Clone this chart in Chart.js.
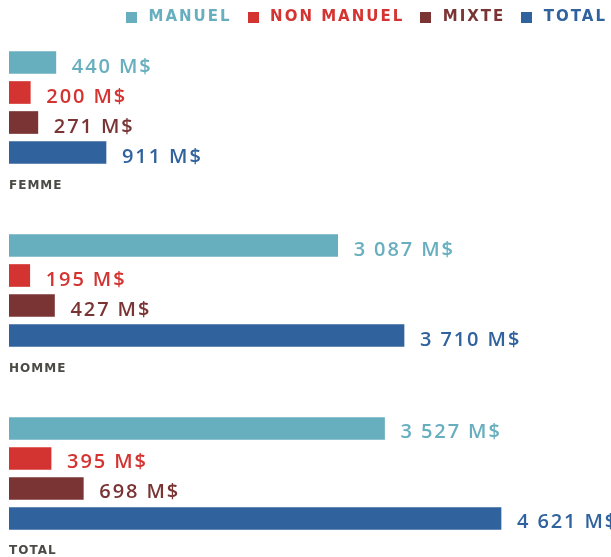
<!DOCTYPE html>
<html>
<head>
<meta charset="utf-8">
<script src="https://cdn.jsdelivr.net/npm/chart.js"></script>
<style>
  html, body { margin: 0; padding: 0; background: #fff; }
  #wrap { width: 611px; height: 557px; }
</style>
</head>
<body>
<div id="wrap"><canvas id="chart_rev"></canvas></div>
<script>
// data (M$)
const categories = ['FEMME', 'HOMME', 'TOTAL'];
const seriesNames = ['MANUEL', 'NON MANUEL', 'MIXTE', 'TOTAL'];
const manuel = [440, 3087, 3527];
const nonManuel = [200, 195, 395];
const mixte = [271, 427, 698];
const total = [911, 3710, 4621];
const colors = ['#67aebe', '#d43431', '#7a3434', '#30629e'];

const series = [manuel, nonManuel, mixte, total];

function fmt(n) {
  return String(n).replace(/\B(?=(\d{3})+(?!\d))/g, ' ') + ' M$';
}

// small square used as legend marker (leaves a wider gap before the text)
function square(color) {
  const c = document.createElement('canvas');
  c.width = 11;
  c.height = 11;
  const g = c.getContext('2d');
  g.fillStyle = color;
  g.fillRect(0, 0, 11, 11);
  return c;
}

// wide tracking like the original typeface
const tracking = {
  id: 'tracking',
  beforeLayout(chart) { chart.ctx.letterSpacing = '2px'; },
  beforeDraw(chart) { chart.ctx.letterSpacing = '2px'; }
};

const valueLabels = {
  id: 'valueLabels',
  afterDatasetsDraw(chart) {
    const ctx = chart.ctx;
    ctx.save();
    ctx.letterSpacing = '1.9px';
    ctx.font = '600 20px "Open Sans"';
    ctx.textAlign = 'left';
    ctx.textBaseline = 'alphabetic';
    chart.data.datasets.forEach((ds, di) => {
      const meta = chart.getDatasetMeta(di);
      meta.data.forEach((bar, i) => {
        ctx.fillStyle = ds.backgroundColor;
        ctx.fillText(fmt(ds.data[i].x), bar.x + 16, bar.y + 10);
      });
    });
    ctx.restore();
  }
};

const groupLabels = {
  id: 'groupLabels',
  afterDatasetsDraw(chart) {
    const ctx = chart.ctx;
    const yScale = chart.scales.y;
    ctx.save();
    ctx.letterSpacing = '1px';
    ctx.font = 'bold 12px "DejaVu Sans"';
    ctx.fillStyle = '#4b4a45';
    ctx.textAlign = 'left';
    ctx.textBaseline = 'alphabetic';
    categories.forEach((c, i) => {
      ctx.fillText(c, chart.chartArea.left, yScale.getPixelForValue(i) + 81);
    });
    ctx.restore();
  }
};

new Chart('chart_rev', {
  type: 'bar',
  data: {
    datasets: seriesNames.map((name, s) => ({
      label: name,
      data: series[s].map((v, i) => ({ x: v, y: i })),
      backgroundColor: colors[s],
      borderWidth: 0,
      barThickness: 30,
      maxBarThickness: 22
    }))
  },
  options: {
    indexAxis: 'y',
    responsive: true,
    maintainAspectRatio: false,
    animation: false,
    layout: { padding: { top: -2, left: 9, right: -8, bottom: 0 } },
    scales: {
      x: { type: 'linear', min: 0, max: 5654, display: false },
      y: { type: 'linear', reverse: true, offset: false, min: -0.3962, max: 2.4563, display: false }
    },
    plugins: {
      tooltip: { enabled: false },
      legend: {
        position: 'top',
        align: 'end',
        labels: {
          usePointStyle: true,
          pointStyleWidth: 19,
          boxHeight: 11,
          padding: 12,
          font: { family: '"DejaVu Sans"', size: 15, weight: 'bold' },
          generateLabels(chart) {
            return chart.data.datasets.map((ds, i) => ({
              text: ds.label,
              fillStyle: ds.backgroundColor,
              strokeStyle: ds.backgroundColor,
              fontColor: ds.backgroundColor,
              pointStyle: square(ds.backgroundColor),
              lineWidth: 0,
              hidden: false,
              datasetIndex: i
            }));
          }
        }
      }
    }
  },
  plugins: [tracking, valueLabels, groupLabels]
});
</script>
</body>
</html>
